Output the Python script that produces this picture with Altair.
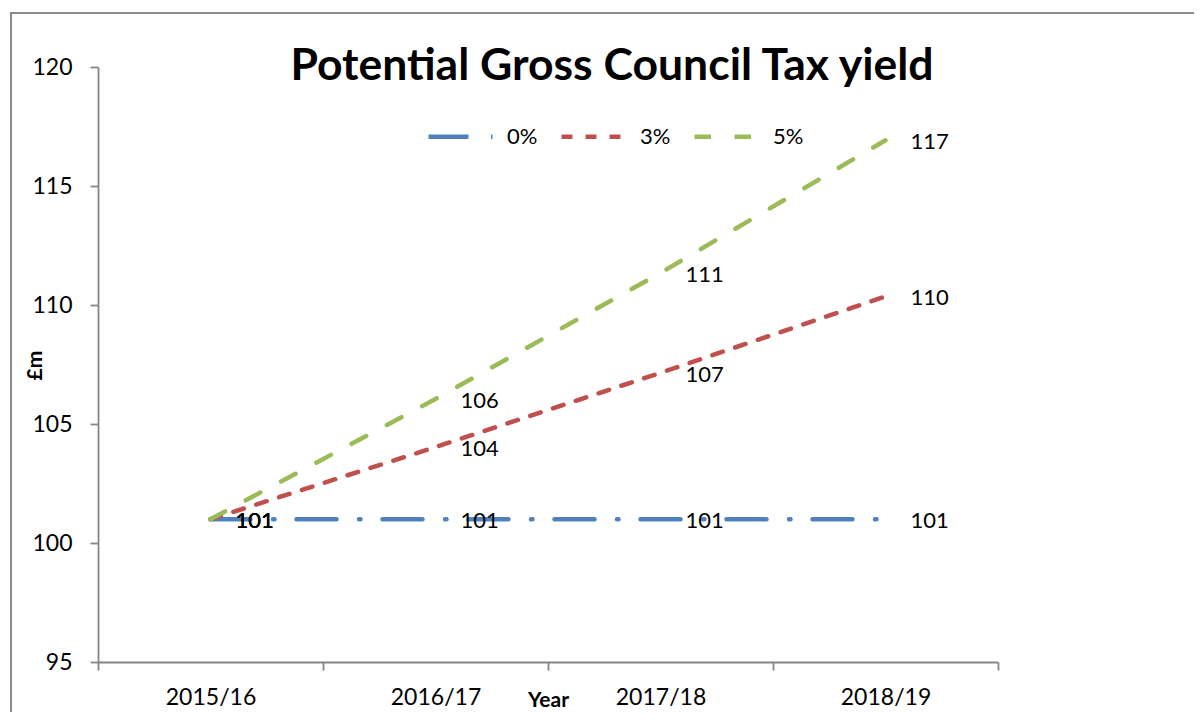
import altair as alt
import pandas as pd

# ---- data ----
years = ["2015/16", "2016/17", "2017/18", "2018/19"]
series = ["0%", "3%", "5%"]
values_0 = [101.0, 101.0, 101.0, 101.0]
values_3 = [101.0, 104.03, 107.15, 110.36]
values_5 = [101.0, 106.05, 111.35, 116.92]
y_ticks = [95, 100, 105, 110, 115, 120]
title_text = "Potential Gross Council Tax yield"

# ---- styles ----
colors = ["#4F81BD", "#C0504D", "#9BBB59"]
dashes = [[40, 22.5, 1.5, 22], [11, 13], [16.5, 23.5]]
FONT = "Lato"
AXIS_GREY = "#868686"

rows = []
for s, vals in zip(series, [values_0, values_3, values_5]):
    for yr, v in zip(years, vals):
        rows.append({"year": yr, "series": s, "value": v})
df = pd.DataFrame(rows)

x_enc = alt.X(
    "year:N",
    sort=years,
    bandPosition=0.5,
    scale=alt.Scale(type="band", paddingInner=0, paddingOuter=0),
    axis=alt.Axis(
        title="Year",
        titleX=450,
        titleY=44,
        titleAlign="center",
        titleBaseline="alphabetic",
        titleFontSize=21,
        titleFontWeight="bold",
        titleFont=FONT,
        titleColor="black",
        labelAngle=0,
        labelFontSize=23,
        labelFont=FONT,
        labelColor="black",
        labelPadding=16,
        tickBand="extent",
        tickSize=8,
    ),
)

y_enc = alt.Y(
    "value:Q",
    scale=alt.Scale(domain=[95, 120], nice=False, zero=False),
    axis=alt.Axis(
        values=y_ticks,
        title="£m",
        titleX=-63,
        titleY=298,
        titleAngle=270,
        titleAlign="center",
        titleBaseline="middle",
        titleFontSize=21,
        titleFontWeight="bold",
        titleFont=FONT,
        titleColor="black",
        labelFontSize=23,
        labelFont=FONT,
        labelColor="black",
        labelPadding=18,
        tickSize=8,
    ),
)

legend = alt.Legend(
    title=None,
    orient="none",
    legendX=328,
    legendY=34,
    direction="horizontal",
    symbolType="stroke",
    symbolSize=66 * 66,
    symbolStrokeWidth=4.5,
    labelFontSize=22,
    labelFont=FONT,
    labelColor="black",
    labelOffset=10,
    columnPadding=14,
    padding=0,
)

base = alt.Chart(df)

lines = base.mark_line(strokeWidth=4.5, strokeCap="round").encode(
    x=x_enc,
    y=y_enc,
    color=alt.Color("series:N", scale=alt.Scale(domain=series, range=colors), legend=legend),
    strokeDash=alt.StrokeDash("series:N", scale=alt.Scale(domain=series, range=dashes), legend=legend),
)

labels = base.mark_text(
    align="left", baseline="middle", dx=25, dy=2, fontSize=22, font=FONT, color="black"
).encode(
    x=x_enc,
    y=y_enc,
    text=alt.Text("value:Q", format=".0f"),
)

title = alt.Chart(pd.DataFrame({"t": [title_text]})).mark_text(
    align="center", baseline="alphabetic", fontSize=44.5, fontWeight="bold", font=FONT, color="black"
).encode(text="t:N", x=alt.value(514), y=alt.value(13))

border = alt.Chart(pd.DataFrame({"a": [0]})).mark_rect(
    fillOpacity=0, stroke="#8C8C8C", strokeWidth=2
).encode(x=alt.value(-87), x2=alt.value(1115), y=alt.value(-54), y2=alt.value(700))

chart = (
    alt.layer(border, lines, labels, title)
    .properties(
        width=900,
        height=595,
        padding={"left": 90, "top": 59, "right": 196, "bottom": 50},
        autosize=alt.AutoSizeParams(type="none"),
        background="white",
    )
    .configure_view(stroke=None)
    .configure_axis(
        grid=False,
        domainColor=AXIS_GREY,
        tickColor=AXIS_GREY,
        domainWidth=1.8,
        tickWidth=1.8,
    )
)

chart.save("out.html", embed_options={"renderer": "svg", "actions": False})
